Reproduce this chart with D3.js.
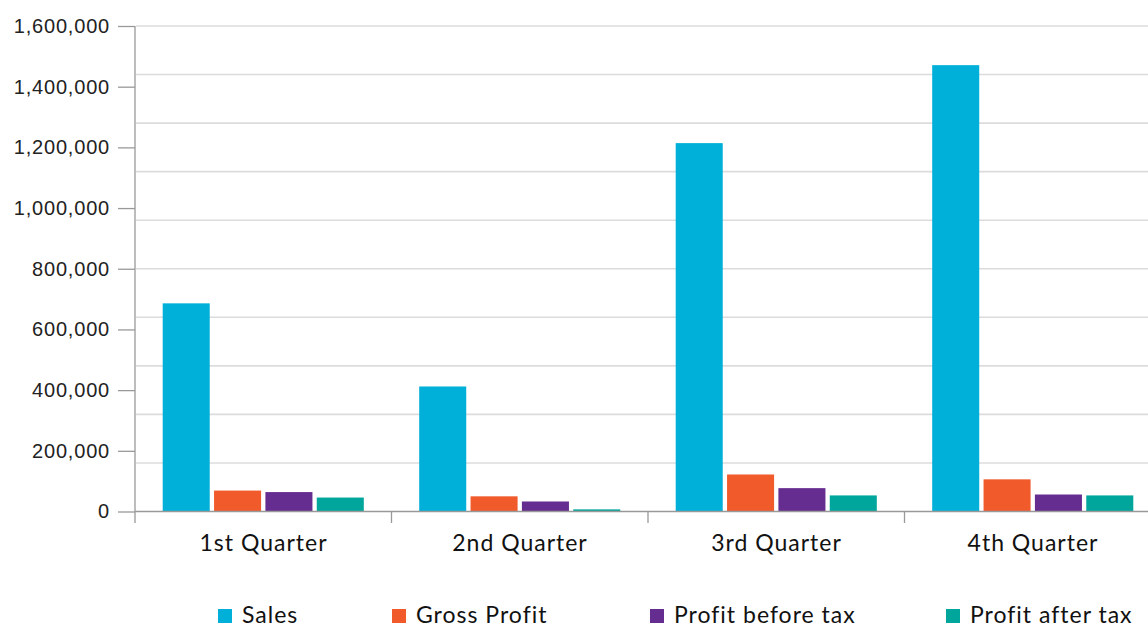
<!DOCTYPE html>
<html>
<head>
<meta charset="utf-8">
<script src="https://cdn.jsdelivr.net/npm/d3@7"></script>
<style>
	body { margin: 0; background: #fff; }
	svg { display: block; font-family: Lato, "Noto Sans", sans-serif; }
</style>
</head>
<body>
<svg id="chart" width="1148" height="628"></svg>
<script>
// data
var quarters = ['1st Quarter', '2nd Quarter', '3rd Quarter', '4th Quarter'];
var seriesNames = ['Sales', 'Gross Profit', 'Profit before tax', 'Profit after tax'];
var seriesColors = ['#00b0d8', '#f15a2b', '#662d91', '#00a69c'];
var sales = [686000, 412000, 1214000, 1471000];
var grossProfit = [69000, 50000, 122000, 106000];
var profitBeforeTax = [64000, 33000, 77000, 56000];
var profitAfterTax = [46000, 7000, 53000, 53000];
var yTicks = [0, 200000, 400000, 600000, 800000, 1000000, 1200000, 1400000, 1600000];
var gridStep = 160000;

var seriesValues = [sales, grossProfit, profitBeforeTax, profitAfterTax];

var svg = d3.select('#chart');
var plotLeft = 135, plotTop = 26, plotBottom = 511.5;
var bandW = 256.5;

var y = d3.scaleLinear().domain([0, 1600000]).range([plotBottom, plotTop]);
var x0 = d3.scaleBand().domain(quarters).range([plotLeft, plotLeft + bandW * quarters.length]).padding(0);
var x1 = d3.scaleBand().domain(seriesNames).range([27.7, bandW - 27.7]).paddingInner(0.084).paddingOuter(0);

// grid lines (every 160k, they do not line up with the labels)
var grid = d3.range(gridStep, 1600000 + 1, gridStep);
svg.append('g').attr('class', 'grid')
	.selectAll('line')
	.data(grid)
	.enter()
	.append('line')
	.attr('x1', plotLeft + 1)
	.attr('x2', 1148)
	.attr('y1', function (d) { return y(d); })
	.attr('y2', function (d) { return y(d); })
	.attr('stroke', '#dcdcdc')
	.attr('stroke-width', 1.6);

// bars
var groups = svg.append('g').selectAll('g')
	.data(quarters)
	.enter()
	.append('g')
	.attr('transform', function (d) { return 'translate(' + x0(d) + ',0)'; });

groups.selectAll('rect')
	.data(function (q, qi) {
		return seriesNames.map(function (s, si) {
			return { series: s, value: seriesValues[si][qi], color: seriesColors[si] };
		});
	})
	.enter()
	.append('rect')
	.attr('x', function (d) { return x1(d.series); })
	.attr('width', x1.bandwidth())
	.attr('y', function (d) { return y(d.value); })
	.attr('height', function (d) { return y(0) - y(d.value); })
	.attr('fill', function (d) { return d.color; });

// y axis
var yAxis = svg.append('g')
	.attr('transform', 'translate(' + plotLeft + ',0)')
	.call(d3.axisLeft(y).tickValues(yTicks).tickSize(17).tickPadding(8)
		.tickFormat(d3.format(',')));
yAxis.select('.domain').remove();
yAxis.selectAll('.tick line').attr('stroke', '#999').attr('stroke-width', 1.3);
yAxis.selectAll('.tick text')
	.attr('fill', '#222')
	.style('font-size', '20px')
	.style('letter-spacing', '0.8px');

svg.append('line')
	.attr('x1', plotLeft).attr('x2', plotLeft)
	.attr('y1', plotTop).attr('y2', plotBottom + 11.5)
	.attr('stroke', '#999').attr('stroke-width', 1.3);

// x axis
svg.append('line')
	.attr('x1', plotLeft).attr('x2', 1148)
	.attr('y1', plotBottom).attr('y2', plotBottom)
	.attr('stroke', '#999').attr('stroke-width', 1.3);

svg.append('g').selectAll('line')
	.data(quarters.slice(1))
	.enter()
	.append('line')
	.attr('x1', function (d) { return x0(d); })
	.attr('x2', function (d) { return x0(d); })
	.attr('y1', plotBottom)
	.attr('y2', plotBottom + 11.5)
	.attr('stroke', '#999').attr('stroke-width', 1.3);

svg.append('g').selectAll('text')
	.data(quarters)
	.enter()
	.append('text')
	.attr('x', function (d) { return x0(d) + 28 + 100.5; })
	.attr('y', 551)
	.attr('text-anchor', 'middle')
	.attr('fill', '#111')
	.style('font-size', '23px')
	.style('letter-spacing', '1px')
	.text(function (d) { return d; });

// legend
var legendX = [218, 392, 650, 946];
var legend = svg.append('g').selectAll('g')
	.data(seriesNames)
	.enter()
	.append('g')
	.attr('transform', function (d, i) { return 'translate(' + legendX[i] + ',609)'; });

legend.append('rect')
	.attr('width', 14).attr('height', 14)
	.attr('fill', function (d, i) { return seriesColors[i]; });

legend.append('text')
	.attr('x', 24)
	.attr('y', 14)
	.attr('fill', '#111')
	.style('font-size', '23px')
	.style('letter-spacing', '1px')
	.text(function (d) { return d; });
</script>
</body>
</html>
